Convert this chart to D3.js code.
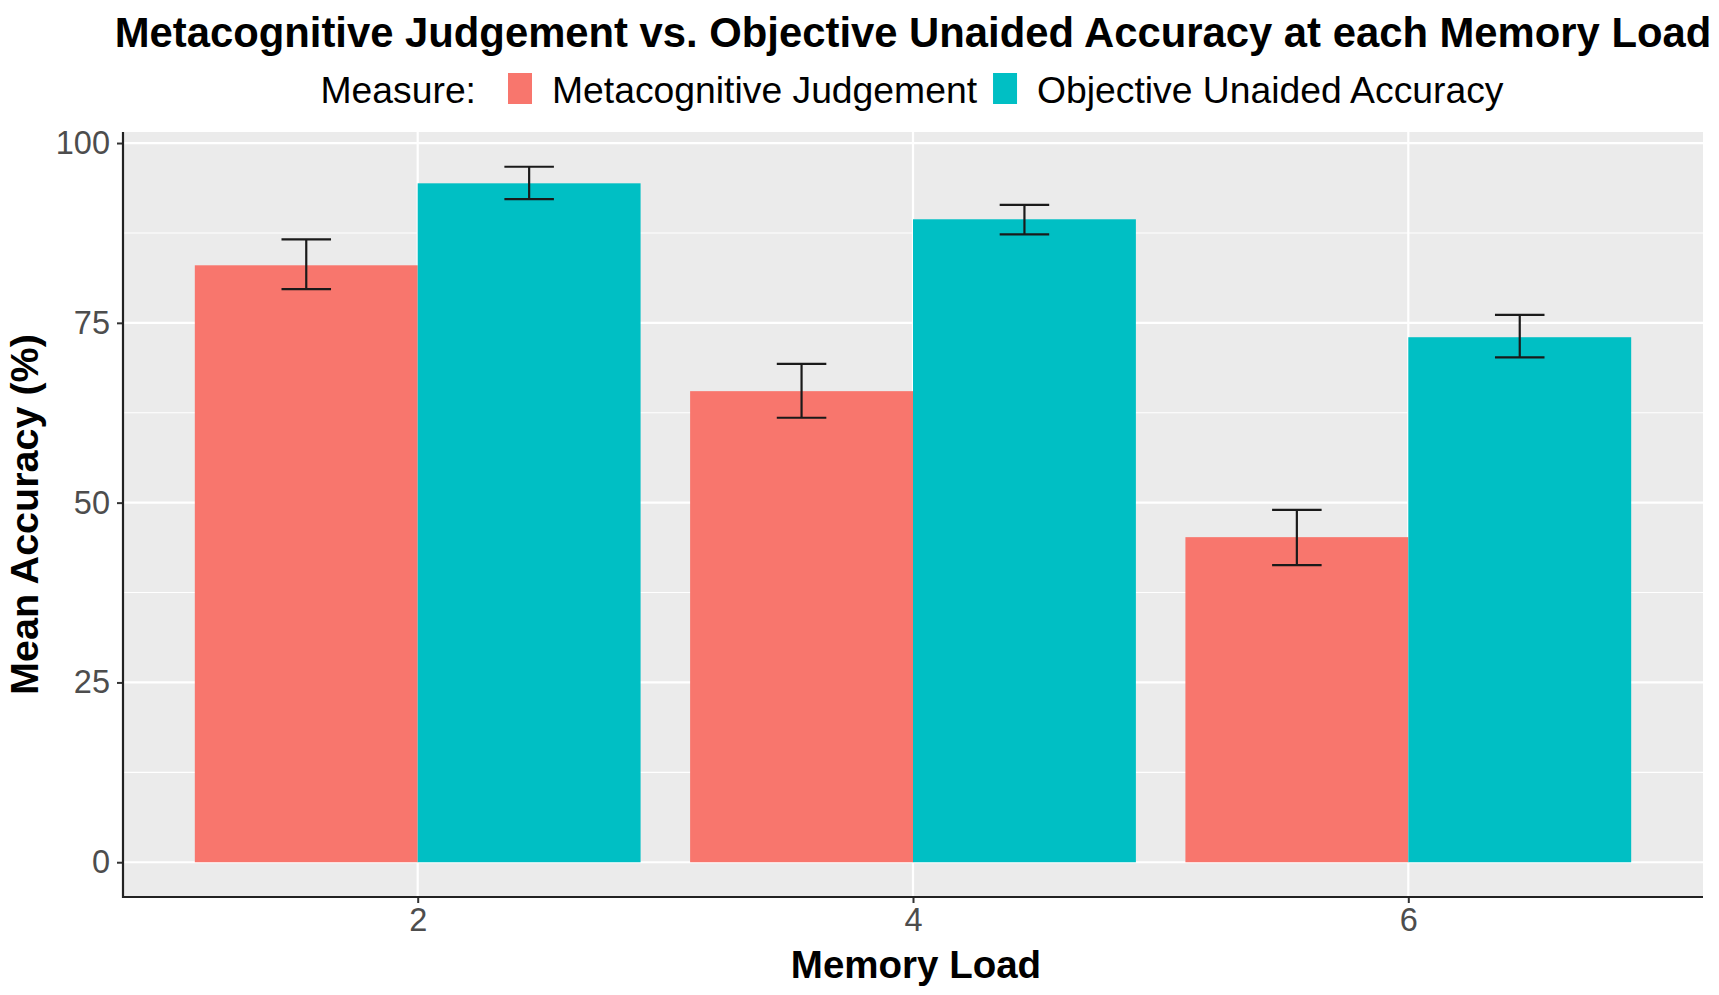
<!DOCTYPE html>
<html>
<head>
<meta charset="utf-8">
<script src="https://cdn.jsdelivr.net/npm/d3@7"></script>
<style>
  html, body { margin: 0; padding: 0; background: #fff; }
  svg { display: block; font-family: "Liberation Sans", Arial, Helvetica, sans-serif; }
</style>
</head>
<body>
<svg id="chart" width="1719" height="995"></svg>
<script>
// ---- data ----
const loads = [2, 4, 6];
const measures = ["Metacognitive Judgement", "Objective Unaided Accuracy"];
const metaMean = [83.0, 65.5, 45.2];
const metaLow  = [79.7, 61.8, 41.3];
const metaHigh = [86.6, 69.3, 49.0];
const objMean  = [94.4, 89.4, 73.0];
const objLow   = [92.2, 87.3, 70.2];
const objHigh  = [96.7, 91.4, 76.1];
const yTicks = [0, 25, 50, 75, 100];
const yMinor = [12.5, 37.5, 62.5, 87.5];
const xTicks = [2, 4, 6];
const titleText = "Metacognitive Judgement vs. Objective Unaided Accuracy at each Memory Load";
const legendTitle = "Measure:";
const xLabel = "Memory Load";
const yLabel = "Mean Accuracy (%)";
const colors = ["#F8766D", "#00BFC4"];

// ---- layout ----
const panel = { left: 123, right: 1703, top: 132, bottom: 897 };
const dodge = 1.8, barW = dodge / 2, errW = 0.2;

const rows = [];
loads.forEach((l, i) => {
  rows.push({ load: l, m: 0, mean: metaMean[i], lo: metaLow[i], hi: metaHigh[i] });
  rows.push({ load: l, m: 1, mean: objMean[i], lo: objLow[i], hi: objHigh[i] });
});

// ggplot-like 5% expansion
const xmin = d3.min(loads) - barW, xmax = d3.max(loads) + barW;
const xpad = (xmax - xmin) * 0.05;
const ymin = 0, ymax = d3.max(rows, d => d.hi);
const ypad = (ymax - ymin) * 0.05;

const x = d3.scaleLinear().domain([xmin - xpad, xmax + xpad]).range([panel.left, panel.right]);
const y = d3.scaleLinear().domain([ymin - ypad, ymax + ypad]).range([panel.bottom, panel.top]);

const svg = d3.select("#chart");

// panel background
svg.append("rect")
  .attr("x", panel.left).attr("y", panel.top)
  .attr("width", panel.right - panel.left).attr("height", panel.bottom - panel.top)
  .attr("fill", "#EBEBEB");

const grid = svg.append("g");
grid.selectAll(".ymin").data(yMinor).join("line")
  .attr("x1", panel.left).attr("x2", panel.right)
  .attr("y1", d => y(d)).attr("y2", d => y(d))
  .attr("stroke", "#fff").attr("stroke-width", 1.1);
grid.selectAll(".ymaj").data(yTicks).join("line")
  .attr("x1", panel.left).attr("x2", panel.right)
  .attr("y1", d => y(d)).attr("y2", d => y(d))
  .attr("stroke", "#fff").attr("stroke-width", 2.2);
grid.selectAll(".xmaj").data(xTicks).join("line")
  .attr("y1", panel.top).attr("y2", panel.bottom)
  .attr("x1", d => x(d)).attr("x2", d => x(d))
  .attr("stroke", "#fff").attr("stroke-width", 2.2);

// bars
svg.append("g").selectAll("rect").data(rows).join("rect")
  .attr("x", d => x(d.load - barW + d.m * barW))
  .attr("width", d => x(d.load + d.m * barW) - x(d.load - barW + d.m * barW))
  .attr("y", d => y(d.mean))
  .attr("height", d => y(0) - y(d.mean))
  .attr("fill", d => colors[d.m]);

// error bars
const eb = svg.append("g").attr("stroke", "#1a1a1a").attr("stroke-width", 2.2).attr("fill", "none");
rows.forEach(d => {
  const cx = d.load - barW / 2 + d.m * barW;
  eb.append("line").attr("x1", x(cx)).attr("x2", x(cx)).attr("y1", y(d.lo)).attr("y2", y(d.hi));
  eb.append("line").attr("x1", x(cx - errW / 2)).attr("x2", x(cx + errW / 2)).attr("y1", y(d.lo)).attr("y2", y(d.lo));
  eb.append("line").attr("x1", x(cx - errW / 2)).attr("x2", x(cx + errW / 2)).attr("y1", y(d.hi)).attr("y2", y(d.hi));
});

// axes
const yAxis = svg.append("g").attr("transform", `translate(${panel.left},0)`)
  .call(d3.axisLeft(y).tickValues(yTicks).tickSize(6).tickPadding(7).tickFormat(d3.format("d")));
const xAxis = svg.append("g").attr("transform", `translate(0,${panel.bottom})`)
  .call(d3.axisBottom(x).tickValues(xTicks).tickSize(6).tickPadding(5).tickFormat(d3.format("d")));
[yAxis, xAxis].forEach(a => {
  a.select(".domain").remove();
  a.selectAll(".tick line").attr("stroke", "#333").attr("stroke-width", 2);
  a.selectAll(".tick text").attr("fill", "#4D4D4D").style("font-size", "32.5px")
    .style("font-family", "'Liberation Sans', Arial, sans-serif");
});
// axis lines
svg.append("line").attr("x1", panel.left).attr("x2", panel.left)
  .attr("y1", panel.top).attr("y2", panel.bottom + 1)
  .attr("stroke", "#222").attr("stroke-width", 2.2);
svg.append("line").attr("x1", panel.left - 1).attr("x2", panel.right)
  .attr("y1", panel.bottom).attr("y2", panel.bottom)
  .attr("stroke", "#222").attr("stroke-width", 2.2);

// titles
const cx = (panel.left + panel.right) / 2 + 3;
svg.append("text").text(titleText)
  .attr("x", cx - 3).attr("y", 47).attr("text-anchor", "middle")
  .style("font-size", "41.8px").style("font-weight", "bold").attr("fill", "#000");
svg.append("text").text(xLabel)
  .attr("x", cx).attr("y", 978).attr("text-anchor", "middle")
  .style("font-size", "38.5px").style("font-weight", "bold").attr("fill", "#000");
svg.append("text").text(yLabel)
  .attr("transform", `translate(38,${(panel.top + panel.bottom) / 2}) rotate(-90)`)
  .attr("text-anchor", "middle")
  .style("font-size", "39.5px").style("font-weight", "bold").attr("fill", "#000");

// legend
const lg = svg.append("g");
const lgBase = 103;
const keyW = 24, keyH = 31, keyTop = 73;
let pos = 0;
const lt = lg.append("text").text(legendTitle).attr("x", pos).attr("y", lgBase)
  .style("font-size", "37.3px").attr("fill", "#000");
pos += lt.node().getComputedTextLength() + 32;
measures.forEach((m, i) => {
  lg.append("rect").attr("x", pos).attr("y", keyTop).attr("width", keyW).attr("height", keyH)
    .attr("fill", colors[i]);
  pos += keyW + 20;
  const t = lg.append("text").text(m).attr("x", pos).attr("y", lgBase)
    .style("font-size", "37.3px").attr("fill", "#000");
  pos += t.node().getComputedTextLength() + (i < measures.length - 1 ? 16 : 0);
});
lg.attr("transform", `translate(${cx - 4 - pos / 2},0)`);
</script>
</body>
</html>
